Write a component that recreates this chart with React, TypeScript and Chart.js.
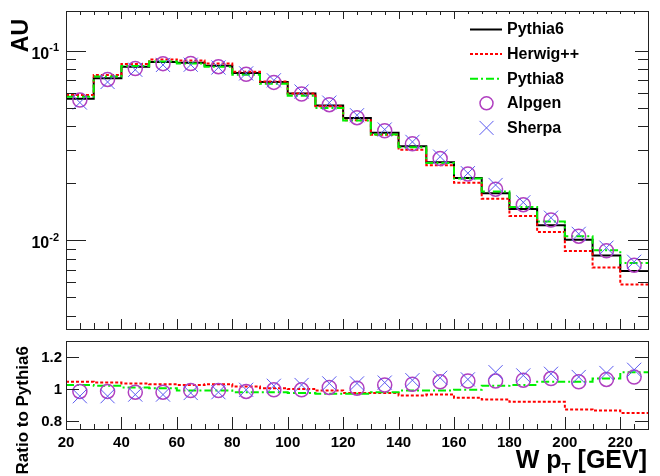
import React, { useEffect, useRef } from "react";
import { Chart, registerables } from "chart.js";

Chart.register(...registerables);

// ---------- data ----------
const binEdges = [20, 30, 40, 50, 60, 70, 80, 90, 100, 110, 120, 130, 140, 150, 160, 170, 180, 190, 200, 210, 220, 230];
const binCenters = [25, 35, 45, 55, 65, 75, 85, 95, 105, 115, 125, 135, 145, 155, 165, 175, 185, 195, 205, 215, 225];

const pythia6 = [0.0558, 0.0716, 0.0822, 0.0872, 0.0865, 0.0832, 0.0763, 0.0684, 0.0594, 0.0514, 0.0441, 0.0369, 0.0313, 0.0258, 0.0213, 0.0177, 0.0146, 0.012, 0.01005, 0.0083, 0.00687];

const herwigRatio = [1.045, 1.04, 1.035, 1.03, 1.025, 1.03, 1.015, 1.005, 1.0, 0.99, 0.975, 0.975, 0.96, 0.965, 0.945, 0.935, 0.92, 0.92, 0.872, 0.865, 0.85];
const pythia8Ratio = [1.025, 1.02, 1.01, 1.005, 0.99, 0.99, 0.98, 0.98, 0.975, 0.97, 0.97, 0.98, 0.99, 0.99, 0.995, 1.02, 1.025, 1.045, 1.045, 1.065, 1.105];
const alpgenRatio = [0.985, 0.985, 0.98, 0.98, 0.99, 0.99, 0.985, 0.995, 0.995, 1.01, 1.005, 1.025, 1.03, 1.045, 1.05, 1.05, 1.055, 1.065, 1.045, 1.06, 1.075];
const sherpaRatio = [0.955, 0.955, 0.965, 0.965, 0.975, 0.98, 0.995, 1.02, 1.025, 1.035, 1.035, 1.04, 1.055, 1.07, 1.06, 1.105, 1.085, 1.095, 1.075, 1.1, 1.12];

const seriesNames = ["Pythia6", "Herwig++", "Pythia8", "Alpgen", "Sherpa"];

const xMajorTicks = [20, 40, 60, 80, 100, 120, 140, 160, 180, 200, 220];
const xTickLabels = ["20", "40", "60", "80", "100", "120", "140", "160", "180", "200", "220"];
const topDecades = [0.1, 0.01];
const topDecadeExps = ["-1", "-2"];
const ratioTicks = [0.8, 1, 1.2];
const ratioTickLabels = ["0.8", "1", "1.2"];

const yTitleTop = "AU";
const yTitleBottom = "Ratio to Pythia6";
const xTitleMain = "W p";
const xTitleSub = "T";
const xTitleUnit = " [GEV]";

// ---------- styles ----------
const FONT = '"Liberation Sans", Arial, Helvetica, sans-serif';
const C_P6 = "#000000";
const C_HW = "#ff0000";
const C_P8 = "#00f000";
const C_AL = "#b040c0";
const C_SH = "#5a5af0";
const DASH_HW = [3, 2];
const DASH_P8 = [8, 3, 2, 3];

const X_MIN = 20, X_MAX = 230;

function stepData(values: number[]) {
  return binEdges.map((x, i) => ({ x, y: values[Math.min(i, values.length - 1)] }));
}
function pointData(values: number[]) {
  return binCenters.map((x, i) => ({ x, y: values[i] }));
}
const times = (a: number[], b: number[]) => a.map((v, i) => v * b[i]);

function xMinorTicks() {
  const out: number[] = [];
  for (let v = X_MIN; v <= X_MAX; v += 5) if (!xMajorTicks.includes(v)) out.push(v);
  return out;
}

function logMinorTicks(min: number, max: number) {
  const out: number[] = [];
  for (let e = -4; e <= 0; e++) {
    for (let m = 2; m <= 9; m++) {
      const v = m * Math.pow(10, e);
      if (v > min && v < max) out.push(v);
    }
  }
  return out;
}

function hLine(ctx: CanvasRenderingContext2D, x1: number, x2: number, y: number) {
  ctx.beginPath();
  ctx.moveTo(x1, Math.round(y) + 0.5);
  ctx.lineTo(x2, Math.round(y) + 0.5);
  ctx.stroke();
}
function vLine(ctx: CanvasRenderingContext2D, x: number, y1: number, y2: number) {
  ctx.beginPath();
  ctx.moveTo(Math.round(x) + 0.5, y1);
  ctx.lineTo(Math.round(x) + 0.5, y2);
  ctx.stroke();
}

function drawFrame(ctx: CanvasRenderingContext2D, a: any) {
  ctx.strokeStyle = "#222";
  ctx.lineWidth = 1;
  ctx.setLineDash([]);
  ctx.strokeRect(Math.round(a.left) + 0.5, Math.round(a.top) + 0.5, Math.round(a.right - a.left), Math.round(a.bottom - a.top));
}

const topPlugin = {
  id: "topPanel",
  afterDraw(chart: any) {
    const ctx: CanvasRenderingContext2D = chart.ctx;
    const a = chart.chartArea;
    const xs = chart.scales.x;
    const ys = chart.scales.y;
    ctx.save();
    drawFrame(ctx, a);
    ctx.strokeStyle = "#222";
    ctx.lineWidth = 1;
    // x ticks
    xMajorTicks.forEach((v) => {
      const px = xs.getPixelForValue(v);
      vLine(ctx, px, a.bottom, a.bottom - 10);
      vLine(ctx, px, a.top, a.top + 8);
    });
    xMinorTicks().forEach((v) => {
      const px = xs.getPixelForValue(v);
      vLine(ctx, px, a.bottom, a.bottom - 6);
      vLine(ctx, px, a.top, a.top + 4);
    });
    // y ticks
    topDecades.forEach((v) => {
      const py = ys.getPixelForValue(v);
      hLine(ctx, a.left, a.left + 20, py);
      hLine(ctx, a.right - 20, a.right, py);
    });
    logMinorTicks(ys.min, ys.max).forEach((v) => {
      const py = ys.getPixelForValue(v);
      hLine(ctx, a.left, a.left + 10, py);
      hLine(ctx, a.right - 10, a.right, py);
    });
    // y labels 10^n
    ctx.fillStyle = "#000";
    topDecades.forEach((v, i) => {
      const py = ys.getPixelForValue(v);
      ctx.font = `bold 11px ${FONT}`;
      const ew = ctx.measureText(topDecadeExps[i]).width;
      const xr = a.left - 7;
      ctx.textAlign = "right";
      ctx.textBaseline = "alphabetic";
      ctx.fillText(topDecadeExps[i], xr, py + 0.5);
      ctx.font = `bold 16px ${FONT}`;
      ctx.fillText("10", xr - ew, py + 8);
    });
    // y title
    ctx.save();
    ctx.translate(22, 19);
    ctx.rotate(-Math.PI / 2);
    ctx.font = `bold 23px ${FONT}`;
    ctx.textAlign = "right";
    ctx.textBaseline = "middle";
    ctx.fillText(yTitleTop, 0, 0);
    ctx.restore();
    // legend
    const lx0 = 460, lx1 = 635, ly0 = 14, ly1 = 142;
    ctx.fillStyle = "#fff";
    ctx.fillRect(lx0, ly0, lx1 - lx0, ly1 - ly0);
    const rowY0 = 29.5, rowStep = 24.6;
    const symL = 470, symR = 502, symC = 486.5, textX = 507;
    seriesNames.forEach((name, i) => {
      const yc = rowY0 + i * rowStep;
      ctx.save();
      if (i === 0 || i === 1 || i === 2) {
        ctx.strokeStyle = [C_P6, C_HW, C_P8][i];
        ctx.lineWidth = 2;
        ctx.setLineDash(i === 0 ? [] : i === 1 ? DASH_HW : DASH_P8);
        ctx.beginPath();
        ctx.moveTo(symL, yc);
        ctx.lineTo(symR, yc);
        ctx.stroke();
      } else if (i === 3) {
        ctx.strokeStyle = C_AL;
        ctx.lineWidth = 1.5;
        ctx.beginPath();
        ctx.arc(symC, yc, 6.5, 0, Math.PI * 2);
        ctx.stroke();
      } else {
        ctx.strokeStyle = C_SH;
        ctx.lineWidth = 1;
        const h = 7;
        ctx.beginPath();
        ctx.moveTo(symC - h, yc - h);
        ctx.lineTo(symC + h, yc + h);
        ctx.moveTo(symC - h, yc + h);
        ctx.lineTo(symC + h, yc - h);
        ctx.stroke();
      }
      ctx.restore();
      ctx.fillStyle = "#000";
      ctx.font = `bold 16px ${FONT}`;
      ctx.textAlign = "left";
      ctx.textBaseline = "middle";
      ctx.fillText(name, textX, yc + 0.5);
    });
    ctx.restore();
  },
};

const bottomPlugin = {
  id: "bottomPanel",
  afterDraw(chart: any) {
    const ctx: CanvasRenderingContext2D = chart.ctx;
    const a = chart.chartArea;
    const xs = chart.scales.x;
    const ys = chart.scales.y;
    ctx.save();
    drawFrame(ctx, a);
    ctx.strokeStyle = "#222";
    ctx.lineWidth = 1;
    xMajorTicks.forEach((v) => {
      const px = xs.getPixelForValue(v);
      vLine(ctx, px, a.bottom, a.bottom - 12);
    });
    xMinorTicks().forEach((v) => {
      const px = xs.getPixelForValue(v);
      vLine(ctx, px, a.bottom, a.bottom - 5);
    });
    ratioTicks.forEach((v) => {
      const py = ys.getPixelForValue(v);
      hLine(ctx, a.left, a.left + 13, py);
      hLine(ctx, a.right - 13, a.right, py);
    });
    ctx.fillStyle = "#000";
    ctx.font = `bold 15px ${FONT}`;
    ctx.textAlign = "right";
    ctx.textBaseline = "middle";
    ratioTicks.forEach((v, i) => {
      ctx.fillText(ratioTickLabels[i], a.left - 4, ys.getPixelForValue(v) + 0.5);
    });
    ctx.textAlign = "center";
    ctx.textBaseline = "alphabetic";
    xMajorTicks.forEach((v, i) => {
      ctx.fillText(xTickLabels[i], xs.getPixelForValue(v), a.bottom + 18);
    });
    // y title
    ctx.save();
    ctx.translate(23, a.top + 5);
    ctx.rotate(-Math.PI / 2);
    ctx.font = `bold 17px ${FONT}`;
    ctx.textAlign = "right";
    ctx.textBaseline = "middle";
    ctx.fillText(yTitleBottom, 0, 0);
    ctx.restore();
    // x title
    const base = a.bottom + 39;
    let xr = a.right - 1;
    ctx.textAlign = "right";
    ctx.font = `bold 25px ${FONT}`;
    ctx.fillText(xTitleUnit, xr, base);
    xr -= ctx.measureText(xTitleUnit).width;
    ctx.font = `bold 15px ${FONT}`;
    ctx.fillText(xTitleSub, xr, base + 5);
    xr -= ctx.measureText(xTitleSub).width;
    ctx.font = `bold 25px ${FONT}`;
    ctx.fillText(xTitleMain, xr, base);
    ctx.restore();
  },
};

const baseOptions: any = {
  responsive: false,
  animation: false,
  devicePixelRatio: 1,
  events: [],
  plugins: { legend: { display: false }, tooltip: { enabled: false } },
};

function stepDataset(label: string, data: any[], color: string, dash: number[], order: number) {
  return {
    label,
    data,
    stepped: "before",
    borderColor: color,
    borderWidth: 2,
    borderDash: dash,
    pointRadius: 0,
    fill: false,
    order,
  };
}
function markerDataset(label: string, data: any[], color: string, style: string, radius: number, width: number, order: number) {
  return {
    label,
    data,
    showLine: false,
    pointStyle: style,
    pointRadius: radius,
    pointBorderColor: color,
    pointBackgroundColor: "rgba(0,0,0,0)",
    pointBorderWidth: width,
    borderColor: color,
    order,
  };
}

function topConfig(): any {
  return {
    type: "line",
    data: {
      datasets: [
        stepDataset(seriesNames[0], stepData(pythia6), C_P6, [], 5),
        stepDataset(seriesNames[1], stepData(times(pythia6, herwigRatio)), C_HW, DASH_HW, 4),
        stepDataset(seriesNames[2], stepData(times(pythia6, pythia8Ratio)), C_P8, DASH_P8, 3),
        markerDataset(seriesNames[3], pointData(times(pythia6, alpgenRatio)), C_AL, "circle", 7, 1.5, 2),
        markerDataset(seriesNames[4], pointData(times(pythia6, sherpaRatio)), C_SH, "crossRot", 10, 1, 1),
      ],
    },
    options: {
      ...baseOptions,
      layout: { padding: { left: 66, right: 12, top: 8, bottom: 2 } },
      scales: {
        x: { type: "linear", min: X_MIN, max: X_MAX, display: false },
        y: { type: "logarithmic", min: 0.0034, max: 0.162, display: false },
      },
    },
    plugins: [topPlugin],
  };
}

function bottomConfig(): any {
  return {
    type: "line",
    data: {
      datasets: [
        stepDataset(seriesNames[1], stepData(herwigRatio), C_HW, DASH_HW, 4),
        stepDataset(seriesNames[2], stepData(pythia8Ratio), C_P8, DASH_P8, 3),
        markerDataset(seriesNames[3], pointData(alpgenRatio), C_AL, "circle", 7, 1.5, 2),
        markerDataset(seriesNames[4], pointData(sherpaRatio), C_SH, "crossRot", 10, 1, 1),
      ],
    },
    options: {
      ...baseOptions,
      layout: { padding: { left: 66, right: 12, top: 8, bottom: 47 } },
      scales: {
        x: { type: "linear", min: X_MIN, max: X_MAX, display: false },
        y: { type: "linear", min: 0.75, max: 1.3, display: false },
      },
    },
    plugins: [bottomPlugin],
  };
}

export default function App() {
  const topRef = useRef<HTMLCanvasElement>(null);
  const botRef = useRef<HTMLCanvasElement>(null);
  useEffect(() => {
    const c1 = new Chart(topRef.current as HTMLCanvasElement, topConfig());
    const c2 = new Chart(botRef.current as HTMLCanvasElement, bottomConfig());
    return () => {
      c1.destroy();
      c2.destroy();
    };
  }, []);
  return (
    <div style={{ position: "fixed", left: 0, top: 0, width: 660, height: 476, background: "#fff" }}>
      <canvas ref={topRef} width={660} height={340} style={{ position: "absolute", left: 0, top: 0, width: 660, height: 340 }} />
      <canvas ref={botRef} width={660} height={146} style={{ position: "absolute", left: 0, top: 330, width: 660, height: 146 }} />
    </div>
  );
}
